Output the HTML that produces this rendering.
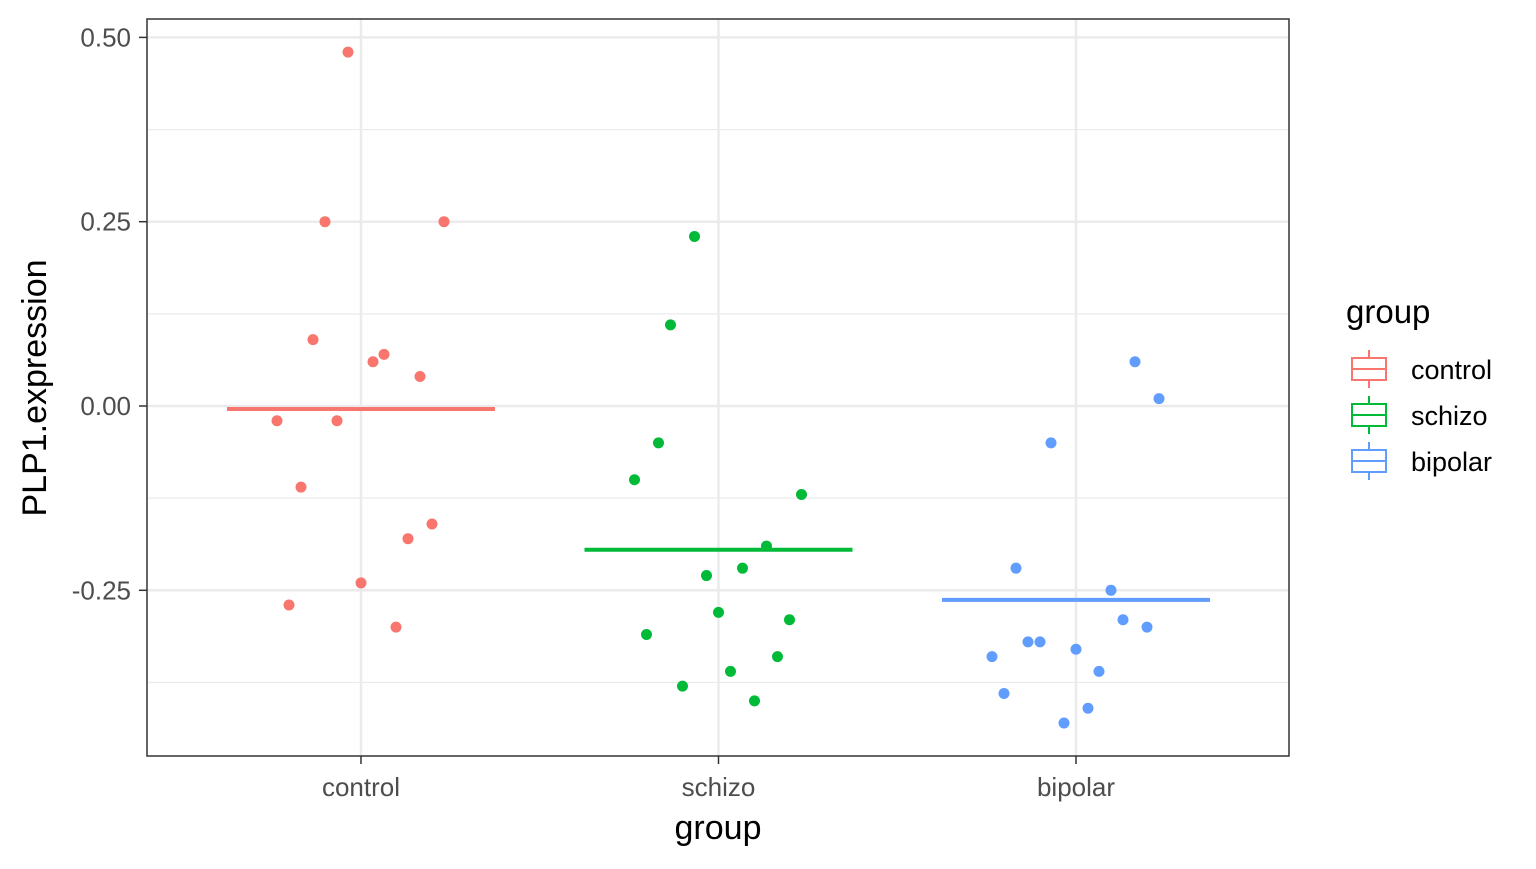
<!DOCTYPE html>
<html><head><meta charset="utf-8"><style>
body{margin:0;background:#fff;font-family:"Liberation Sans",Arial,sans-serif;}
</style></head><body>
<svg id="chart" width="1536" height="864" xmlns="http://www.w3.org/2000/svg">
<rect x="0" y="0" width="1536" height="864" fill="#fff"/>
<g id="grid"></g>
<g id="marks"></g>
<rect x="147" y="19" width="1142" height="737" fill="none" stroke="#333" stroke-width="1.5"/>
<g id="axes"></g>
<text x="718" y="839" font-size="34" text-anchor="middle" fill="#000">group</text>
<text transform="translate(46,388) rotate(-90)" font-size="34" text-anchor="middle" fill="#000">PLP1.expression</text>
<g id="legend">
<text x="1346" y="323" font-size="33" fill="#000">group</text>
</g>
</svg>
<script>
const categories=["control","schizo","bipolar"];
const colors=["#F8766D","#00BA38","#619CFF"];
const yTicks=[-0.25,0,0.25,0.5];
const yTickLabels=["-0.25","0.00","0.25","0.50"];
const controlValues=[0.48,0.25,0.25,0.09,0.06,0.07,0.04,-0.02,-0.02,-0.11,-0.16,-0.18,-0.24,-0.27,-0.30];
const controlJitter=[-13,-36,83,-48,12,23,59,-84,-24,-60,71,47,0,-72,35];
const schizoValues=[0.23,0.11,-0.05,-0.10,-0.12,-0.19,-0.22,-0.23,-0.28,-0.29,-0.31,-0.34,-0.36,-0.38,-0.40];
const schizoJitter=[-24,-48,-60,-84,83,48,24,-12,0,71,-72,59,12,-36,36];
const bipolarValues=[0.06,0.01,-0.05,-0.22,-0.25,-0.29,-0.30,-0.32,-0.32,-0.34,-0.33,-0.36,-0.39,-0.41,-0.43];
const bipolarJitter=[59,83,-25,-60,35,47,71,-48,-36,-84,0,23,-72,12,-12];
const medians=[-0.004,-0.195,-0.263];
const seriesValues=[controlValues,schizoValues,bipolarValues];
const seriesJitter=[controlJitter,schizoJitter,bipolarJitter];

const NS="http://www.w3.org/2000/svg";
const xScale=i=>361+i*357.5;
const yScale=v=>406-v*737.2;
function mk(parent,tag,attrs){const e=document.createElementNS(NS,tag);for(const k in attrs)e.setAttribute(k,attrs[k]);parent.appendChild(e);return e;}
const grid=document.getElementById('grid'),marks=document.getElementById('marks'),axes=document.getElementById('axes'),legend=document.getElementById('legend');
for(let i=0;i<yTicks.length-1;i++){
  const v=(yTicks[i]+yTicks[i+1])/2;
  const l=mk(grid,'line',{x1:147,x2:1289,y1:yScale(v),y2:yScale(v),stroke:'#ebebeb','stroke-width':1.2});
  
  
}
{const v=yTicks[0]-0.125;const l=mk(grid,'line',{x1:147,x2:1289,y1:yScale(v),y2:yScale(v),stroke:'#ebebeb','stroke-width':1.2});

}
yTicks.forEach((t,i)=>{
  const y=yScale(t);
  const l=mk(grid,'line',{x1:147,x2:1289,y1:y,y2:y,stroke:'#ebebeb','stroke-width':2.5});
  
  
  const tk=mk(axes,'line',{x1:139,x2:147,y1:y,y2:y,stroke:'#333','stroke-width':1.5});
  
  
  const tx=mk(axes,'text',{x:131,y:y+9,'font-size':26,'text-anchor':'end',fill:'#4d4d4d'});
  tx.textContent=yTickLabels[i];
  
  
});
categories.forEach((c,i)=>{
  const x=xScale(i);
  const l=mk(grid,'line',{x1:x,x2:x,y1:19,y2:756,stroke:'#ebebeb','stroke-width':2.5});
  
  
  const tk=mk(axes,'line',{x1:x,x2:x,y1:756,y2:764,stroke:'#333','stroke-width':1.5});
  
  
  const tx=mk(axes,'text',{x:x,y:796,'font-size':26,'text-anchor':'middle',fill:'#4d4d4d'});
  tx.textContent=c;
  
  
  const m=mk(marks,'line',{x1:x-134,x2:x+134,y1:yScale(medians[i]),y2:yScale(medians[i]),stroke:colors[i],'stroke-width':4});
  
  
  seriesValues[i].forEach((v,j)=>{
    const p=mk(marks,'circle',{cx:x+seriesJitter[i][j],cy:yScale(v),r:5.5,fill:colors[i]});
    
    
  });
  const ly=369+i*46;
  const g=mk(legend,'g',{});
  
  
  mk(g,'line',{x1:1369,x2:1369,y1:ly-19,y2:ly+19,stroke:colors[i],'stroke-width':2});
  mk(g,'rect',{x:1352,y:ly-11,width:34,height:22,fill:'#fff',stroke:colors[i],'stroke-width':2});
  mk(g,'line',{x1:1352,x2:1386,y1:ly,y2:ly,stroke:colors[i],'stroke-width':2});
  const t=mk(g,'text',{x:1411,y:ly+10,'font-size':27,fill:'#000'});
  t.textContent=c;
});
</script>
</body></html>
